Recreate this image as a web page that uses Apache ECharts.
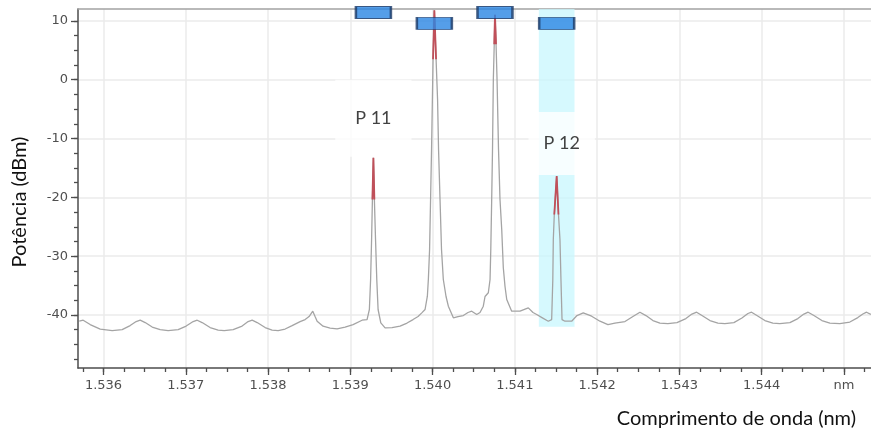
<!DOCTYPE html>
<html>
<head>
<meta charset="utf-8">
<script src="https://cdn.jsdelivr.net/npm/echarts@6/dist/echarts.min.js"></script>
<style>
  html, body { margin: 0; padding: 0; background: #ffffff; }
  #chart { width: 871px; height: 432px; }
</style>
</head>
<body>
<div id="chart"></div>
<script>
// Optical spectrum trace: wavelength (axis units) and power in dBm
const wavelength = [
  1.535705, 1.535753, 1.535838, 1.535960, 1.536106, 1.536227, 1.536324, 1.536397, 1.536446, 1.536507,
  1.536592, 1.536689, 1.536786, 1.536908, 1.537005, 1.537090, 1.537139, 1.537199, 1.537296, 1.537394,
  1.537467, 1.537576, 1.537685, 1.537758, 1.537807, 1.537868, 1.537965, 1.538050, 1.538123, 1.538208,
  1.538293, 1.538390, 1.538451, 1.538499, 1.538544, 1.538572, 1.538597, 1.538669, 1.538755, 1.538840,
  1.538937, 1.539034, 1.539143, 1.539204, 1.539232, 1.539247, 1.539259, 1.539269, 1.539281, 1.539293,
  1.539307, 1.539322, 1.539338, 1.539371, 1.539423, 1.539508, 1.539605, 1.539690, 1.539763, 1.539824,
  1.539869, 1.539909, 1.539937, 1.539949, 1.539964, 1.539976, 1.539988, 1.539998, 1.540006, 1.540016,
  1.540022, 1.540030, 1.540043, 1.540061, 1.540073, 1.540091, 1.540109, 1.540131, 1.540164, 1.540192,
  1.540253, 1.540310, 1.540374, 1.540431, 1.540476, 1.540537, 1.540577, 1.540617, 1.540638, 1.540678,
  1.540699, 1.540708, 1.540719, 1.540729, 1.540739, 1.540750, 1.540759, 1.540772, 1.540784, 1.540802,
  1.540820, 1.540841, 1.540860, 1.540881, 1.540902, 1.540962, 1.541063, 1.541164, 1.541221, 1.541266,
  1.541330, 1.541407, 1.541448, 1.541462, 1.541468, 1.541480, 1.541509, 1.541531, 1.541549, 1.541561,
  1.541574, 1.541610, 1.541691, 1.541756, 1.541832, 1.541934, 1.542035, 1.542132, 1.542217, 1.542339,
  1.542436, 1.542521, 1.542594, 1.542679, 1.542764, 1.542861, 1.542971, 1.543080, 1.543153, 1.543210,
  1.543275, 1.543372, 1.543469, 1.543554, 1.543663, 1.543761, 1.543834, 1.543878, 1.543943, 1.544040,
  1.544137, 1.544222, 1.544344, 1.544441, 1.544514, 1.544566, 1.544636, 1.544733, 1.544830, 1.544951,
  1.545073, 1.545170, 1.545231, 1.545276, 1.545328
];
const power = [
  -41.05, -40.88, -41.62, -42.38, -42.64, -42.47, -41.79, -41.11, -40.88, -41.28,
  -42.04, -42.47, -42.64, -42.47, -41.87, -41.11, -40.88, -41.28, -42.13, -42.55,
  -42.64, -42.47, -41.87, -41.11, -40.88, -41.28, -42.13, -42.55, -42.64, -42.38,
  -41.79, -41.11, -40.77, -40.26, -39.35, -40.26, -41.05, -41.90, -42.21, -42.35,
  -42.04, -41.62, -40.88, -40.77, -39.06, -33.96, -27.16, -20.36, -13.27, -20.36,
  -27.16, -33.96, -39.06, -41.33, -42.18, -42.13, -41.90, -41.36, -40.77, -40.26,
  -39.63, -39.06, -36.80, -33.96, -28.86, -20.36, -11.85, -3.35, 3.45, 8.55,
  11.80, 8.55, 3.45, -3.35, -11.85, -20.36, -28.86, -33.96, -36.85, -38.50,
  -40.48, -40.26, -40.09, -39.57, -39.35, -39.91, -39.57, -38.50, -36.85, -36.22,
  -33.96, -28.86, -20.36, -11.85, 0.05, 6.00, 11.00, 6.00, 0.05, -11.85,
  -20.36, -25.46, -31.92, -35.15, -37.36, -39.35, -39.35, -38.78, -39.57, -39.91,
  -40.43, -41.05, -40.77, -33.96, -27.16, -22.91, -16.39, -22.91, -27.16, -33.96,
  -40.77, -41.05, -41.05, -40.09, -39.63, -40.20, -41.05, -41.62, -41.36, -41.11,
  -40.26, -39.52, -40.09, -40.94, -41.36, -41.45, -41.28, -40.60, -39.83, -39.52,
  -40.09, -40.94, -41.36, -41.45, -41.28, -40.51, -39.74, -39.52, -40.09, -40.94,
  -41.36, -41.45, -41.28, -40.60, -39.83, -39.52, -40.09, -40.94, -41.36, -41.45,
  -41.19, -40.43, -39.83, -39.52, -39.91
];

// Detected peaks, their tags and the row each marker box sits in
const peakWavelength = [1.539281, 1.540022, 1.540759, 1.541509];
const peakTag = ['P 11', '', '', 'P 12'];
const markerRow = [11.4, 9.55, 11.4, 9.55];

// Axis ranges and labelled ticks
const xRange = [1.53569, 1.54533];
const yRange = [-49, 12];
const xMajor = [1.536, 1.537, 1.538, 1.539, 1.540, 1.541, 1.542, 1.543, 1.544, 1.545];
const yMajor = [-40, -30, -20, -10, 0, 10];
const xMinorStep = 0.00025;
const yMinorStep = 2.5;
const tipDepth = 8.5;          // dB below a peak that is drawn in red
const selectHalfWidth = 0.000217;
const selectFloor = -42;

const xMinor = [];
for (let v = 1.53575; v <= xRange[1] + 1e-9; v += xMinorStep) xMinor.push(Math.round(v * 1e6) / 1e6);
const yMinor = [];
for (let v = -47.5; v <= yRange[1] + 1e-9; v += yMinorStep) yMinor.push(v);

const trace = wavelength.map((w, i) => [w, power[i]]);

function nearestIndex(w) {
  let best = 0;
  wavelength.forEach((x, i) => { if (Math.abs(x - w) < Math.abs(wavelength[best] - w)) best = i; });
  return best;
}
const peakIndex = peakWavelength.map(nearestIndex);

// Red peak tips taken from the trace itself
const tipSeries = peakIndex.map(pi => {
  const floor = power[pi] - tipDepth;
  let a = pi, b = pi;
  while (a > 0 && power[a - 1] >= floor) a--;
  while (b < power.length - 1 && power[b + 1] >= floor) b++;
  return {
    type: 'line', data: trace.slice(a, b + 1), showSymbol: false, silent: true, z: 4,
    lineStyle: { color: '#c0505a', width: 1.8 }, emphasis: { disabled: true }
  };
});

const axisColor = '#4d4d4d';
const gridColor = '#ebebeb';
const tickFont = { color: '#4f4f4f', fontFamily: 'DejaVu Sans', fontSize: 13 };

const chart = echarts.init(document.getElementById('chart'), null, { renderer: 'canvas' });
chart.setOption({
  animation: false,
  backgroundColor: '#ffffff',
  grid: { left: 78, right: 0, top: 9, bottom: 64, containLabel: false, outerBoundsMode: 'none' },
  xAxis: [
    {
      // minor ticks and labels
      type: 'value', min: xRange[0], max: xRange[1], position: 'bottom',
      axisLine: { onZero: false, lineStyle: { color: axisColor, width: 1.5 } },
      axisTick: { customValues: xMinor, length: 4, lineStyle: { color: axisColor, width: 1.3 } },
      axisLabel: Object.assign({
        customValues: xMajor, margin: 11,
        formatter: v => (Math.abs(v - 1.545) < 1e-7 ? 'nm' : v.toFixed(3))
      }, tickFont),
      splitLine: { show: false }
    },
    {
      // major ticks and vertical grid lines
      type: 'value', min: xRange[0], max: xRange[1], position: 'bottom',
      axisLine: { show: false, onZero: false },
      axisTick: { customValues: xMajor, length: 7, lineStyle: { color: axisColor, width: 1.3 } },
      axisLabel: { show: false },
      splitLine: { show: true, lineStyle: { color: gridColor, width: 1.5 } }
    },
    {
      // frame line along the top
      type: 'value', min: xRange[0], max: xRange[1], position: 'top',
      axisLine: { onZero: false, lineStyle: { color: '#a3a3a3', width: 1.5 } },
      axisTick: { show: false }, axisLabel: { show: false }, splitLine: { show: false }
    }
  ],
  yAxis: [
    {
      type: 'value', min: yRange[0], max: yRange[1], position: 'left',
      axisLine: { show: true, onZero: false, lineStyle: { color: axisColor, width: 1.5 } },
      axisTick: { show: true, customValues: yMinor, length: 4, lineStyle: { color: axisColor, width: 1.3 } },
      axisLabel: Object.assign({ customValues: yMajor, margin: 10 }, tickFont),
      splitLine: { show: false }
    },
    {
      type: 'value', min: yRange[0], max: yRange[1], position: 'left',
      axisLine: { show: false, onZero: false },
      axisTick: { show: true, customValues: yMajor, length: 7, lineStyle: { color: axisColor, width: 1.3 } },
      axisLabel: { show: false },
      splitLine: { show: true, lineStyle: { color: gridColor, width: 1.5 } }
    }
  ],
  graphic: [
    {
      type: 'text', x: 20, y: 202, rotation: Math.PI / 2,
      style: { text: 'Potência (dBm)', fontFamily: 'Lato', fontSize: 20, fill: '#111', align: 'center', verticalAlign: 'middle' }
    },
    {
      type: 'text', x: 856, y: 419,
      style: { text: 'Comprimento de onda (nm)', fontFamily: 'Lato', fontSize: 20, fill: '#111', align: 'right', verticalAlign: 'middle' }
    }
  ],
  series: [
    {
      // selected-peak band
      type: 'line', data: [], silent: true, z: 1,
      markArea: {
        silent: true,
        itemStyle: { color: 'rgba(200, 247, 253, 0.75)' },
        data: [[
          { xAxis: peakWavelength[3] - selectHalfWidth, yAxis: selectFloor },
          { xAxis: peakWavelength[3] + selectHalfWidth, yAxis: yRange[1] }
        ]]
      }
    },
    {
      type: 'line', data: trace, showSymbol: false, silent: true, z: 3,
      lineStyle: { color: '#a4a4a4', width: 1.3 }, emphasis: { disabled: true }
    },
    ...tipSeries,
    {
      // peak marker boxes
      type: 'scatter', silent: true, z: 6, clip: false,
      symbol: 'rect', symbolSize: [35, 12],
      itemStyle: { color: '#2b86e4', borderColor: '#1c3a66', borderWidth: 1.5 },
      data: peakWavelength.map((w, i) => [w, markerRow[i]])
    },
    {
      // peak tags
      type: 'scatter', silent: true, z: 8, symbolSize: 0,
      label: {
        show: true, position: 'top', distance: 1, formatter: '{b}',
        backgroundColor: '#ffffff', color: '#111', fontFamily: 'Lato', fontSize: 18, lineHeight: 20
      },
      data: peakIndex.map((pi, i) => ({ idx: i, pi }))
        .filter(o => peakTag[o.idx])
        .map(o => ({
          name: peakTag[o.idx],
          value: [wavelength[o.pi], power[o.pi]],
          label: o.idx === 0 ? { padding: [28, 20, 29, 20] } : { padding: [21, 15, 22, 15], offset: [5, 0] }
        }))
    }
  ]
});
</script>
</body>
</html>
